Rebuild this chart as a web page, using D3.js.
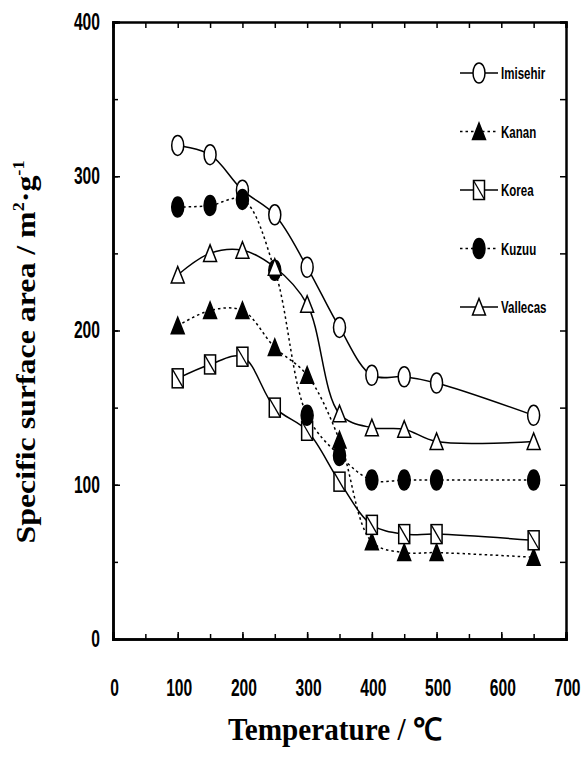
<!DOCTYPE html>
<html>
<head>
<meta charset="utf-8">
<script src="https://cdn.jsdelivr.net/npm/d3@7"></script>
<style>
  html, body { margin: 0; padding: 0; background: #fff; }
  svg { display: block; }
  .tick text { font-family: "Liberation Sans", "DejaVu Sans", sans-serif; font-weight: bold; }
</style>
</head>
<body>
<div id="chart"></div>
<script>
// ---- data ----
const temps = [100, 150, 200, 250, 300, 350, 400, 450, 500, 650];
const imisehir = [320, 314, 291, 275, 241, 202, 171, 170, 166, 145];
const kanan    = [203, 213, 213, 189, 171, 129, 63, 56, 56, 53];
const korea    = [169, 178, 183, 150, 135, 102, 74, 68, 68, 64];
const kuzuu    = [280, 281, 285, 239, 145, 119, 103, 103, 103, 103];
const vallecas = [236, 250, 252, 241, 217, 146, 137, 136, 128, 128];
const seriesNames = ["Imisehir", "Kanan", "Korea", "Kuzuu", "Vallecas"];
const xTicks = [0, 100, 200, 300, 400, 500, 600, 700];
const yTicks = [0, 100, 200, 300, 400];

const W = 582, H = 759;
const SX = 0.68; // horizontal condensing of sans text
const svg = d3.select("#chart").append("svg").attr("width", W).attr("height", H);

const x = d3.scaleLinear().domain([0, 700]).range([113, 566]);
const y = d3.scaleLinear().domain([0, 400]).range([639, 22]);

const series = [
  {name: "Imisehir", vals: imisehir, marker: "circle", fill: "#fff", dash: null},
  {name: "Kanan", vals: kanan, marker: "triangle", fill: "#000", dash: "2.5,3"},
  {name: "Korea", vals: korea, marker: "square", fill: "#fff", dash: null},
  {name: "Kuzuu", vals: kuzuu, marker: "circle", fill: "#000", dash: "2.5,3"},
  {name: "Vallecas", vals: vallecas, marker: "triangle", fill: "#fff", dash: null}
];

const minor = d3.range(0, 701, 50);
const minorY = d3.range(0, 401, 50);

// bottom axis
const gB = svg.append("g").attr("transform", `translate(0,${y(0)})`)
  .call(d3.axisBottom(x).tickValues(xTicks).tickSize(-7).tickPadding(41).tickFormat(d3.format("d")));
svg.append("g").attr("transform", `translate(0,${y(0)})`)
  .call(d3.axisBottom(x).tickValues(minor).tickSize(-5).tickFormat(""));
// top axis
svg.append("g").attr("transform", `translate(0,${y(400)})`)
  .call(d3.axisTop(x).tickValues(minor).tickSize(-6).tickFormat(""));
// left axis
const gL = svg.append("g").attr("transform", `translate(${x(0)},0)`)
  .call(d3.axisLeft(y).tickValues(yTicks).tickSize(-7).tickPadding(13).tickFormat(d3.format("d")));
svg.append("g").attr("transform", `translate(${x(0)},0)`)
  .call(d3.axisLeft(y).tickValues(minorY).tickSize(-5).tickFormat(""));
// right axis
svg.append("g").attr("transform", `translate(${x(700)},0)`)
  .call(d3.axisRight(y).tickValues(minorY).tickSize(-6).tickFormat(""));

svg.selectAll(".domain").attr("stroke", "#000").attr("stroke-width", 2.5);
svg.selectAll(".tick line").attr("stroke", "#000").attr("stroke-width", 1.5);
svg.selectAll(".tick text").attr("font-size", 23).attr("fill", "#000");
gB.selectAll(".tick text").attr("dy", "0.71em")
  .attr("transform", `translate(1,0) scale(${SX},1)`);
gL.selectAll(".tick text").attr("x", -13 / SX)
  .attr("transform", `scale(${SX},1)`);

// lines
const line = d3.line().x(d => x(d[0])).y(d => y(d[1])).curve(d3.curveCatmullRom.alpha(0.5));
series.forEach(s => {
  const pts = temps.map((t, i) => [t, s.vals[i]]);
  svg.append("path").datum(pts).attr("d", line)
    .attr("fill", "none").attr("stroke", "#000").attr("stroke-width", 1.5)
    .attr("stroke-dasharray", s.dash);
});

function drawMarker(g, type, fill) {
  if (type === "circle") {
    g.append("ellipse").attr("rx", 6).attr("ry", 10)
      .attr("fill", fill).attr("stroke", "#000").attr("stroke-width", 1.5);
  } else if (type === "triangle") {
    g.append("path").attr("d", "M0,-8.5 L6.5,8 L-6.5,8 Z")
      .attr("fill", fill).attr("stroke", "#000").attr("stroke-width", 1.5);
  } else if (type === "square") {
    g.append("rect").attr("x", -5.5).attr("y", -9.5).attr("width", 11).attr("height", 19)
      .attr("fill", fill).attr("stroke", "#000").attr("stroke-width", 1.5);
    g.append("line").attr("x1", -5.5).attr("y1", -9.5).attr("x2", 5.5).attr("y2", 9.5)
      .attr("stroke", "#000").attr("stroke-width", 1.3);
  }
}

// markers
series.forEach(s => {
  temps.forEach((t, i) => {
    const g = svg.append("g").attr("transform", `translate(${x(t)},${y(s.vals[i])})`);
    drawMarker(g, s.marker, s.fill);
  });
});

// legend
const legY0 = 73, legStep = 58.5;
series.forEach((s, i) => {
  const ly = legY0 + i * legStep;
  svg.append("line").attr("x1", 460).attr("x2", 498).attr("y1", ly).attr("y2", ly)
    .attr("stroke", "#000").attr("stroke-width", 1.3).attr("stroke-dasharray", s.dash);
  const g = svg.append("g").attr("transform", `translate(479,${ly})`);
  drawMarker(g, s.marker, s.fill);
  svg.append("text").attr("transform", `translate(501,${ly + 6}) scale(0.72,1)`)
    .attr("font-family", "'Liberation Sans', sans-serif")
    .attr("font-weight", "bold").attr("font-size", 16).attr("fill", "#000")
    .text(seriesNames[i]);
});

// axis titles
svg.append("text").attr("x", 335).attr("y", 740).attr("text-anchor", "middle")
  .attr("font-family", "'Liberation Serif', serif").attr("font-weight", "bold")
  .attr("font-size", 31).attr("textLength", 214).attr("lengthAdjust", "spacingAndGlyphs")
  .attr("fill", "#000").text("Temperature / ℃");

const yt = svg.append("text").attr("transform", "translate(35,352) rotate(-90)")
  .attr("text-anchor", "middle")
  .attr("font-family", "'Liberation Serif', serif").attr("font-weight", "bold")
  .attr("font-size", 28).attr("textLength", 383).attr("lengthAdjust", "spacingAndGlyphs")
  .attr("fill", "#000");
yt.append("tspan").text("Specific  surface  area / m");
yt.append("tspan").attr("font-size", 16).attr("dy", -11).text("2");
yt.append("tspan").attr("dy", 11).text("·g");
yt.append("tspan").attr("font-size", 16).attr("dy", -11).text("-1");
</script>
</body>
</html>
